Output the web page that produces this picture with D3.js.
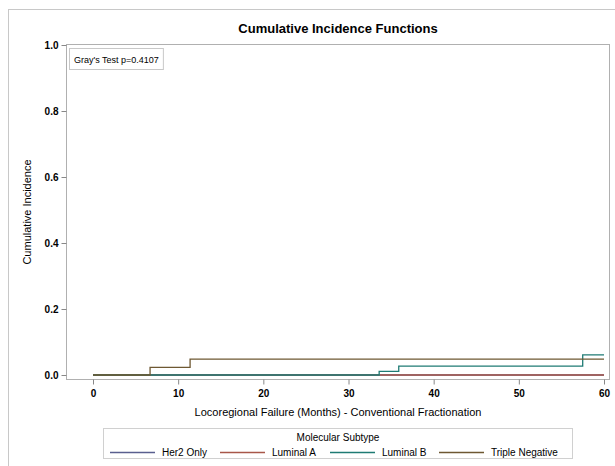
<!DOCTYPE html>
<html>
<head>
<meta charset="utf-8">
<script src="https://cdn.jsdelivr.net/npm/d3@7"></script>
<style>
  body { margin: 0; background: #fff; }
  text { font-family: "Liberation Sans", Arial, sans-serif; fill: #000; }
</style>
</head>
<body>
<div id="chart"></div>
<script>
// step curves: [month, cumulative incidence]
var her2Only = [[0, 0], [60, 0]];
var luminalA = [[0, 0], [60, 0]];
var luminalB = [[0, 0], [33.6, 0.011], [35.9, 0.027], [57.5, 0.061], [60, 0.061]];
var tripleNeg = [[0, 0], [6.7, 0.023], [11.4, 0.048], [60, 0.048]];

var seriesNames = ["Her2 Only", "Luminal A", "Luminal B", "Triple Negative"];
var seriesColors = ["#5a5f8f", "#a8574a", "#1f7b74", "#6e5832"];
var xTicks = [0, 10, 20, 30, 40, 50, 60];
var yTicks = [0, 0.2, 0.4, 0.6, 0.8, 1.0];

var W = 615, H = 466;
var svg = d3.select("#chart").append("svg")
  .attr("width", W).attr("height", H);

// outer frame
svg.append("rect")
  .attr("x", 8.5).attr("y", 9.5)
  .attr("width", 640).attr("height", 480)
  .attr("fill", "none").attr("stroke", "#c8c8c8");

// plot area frame
var frame = {left: 66, top: 44, right: 609, bottom: 379};

var x = d3.scaleLinear().domain([0, 60]).range([93, 604]);
var y = d3.scaleLinear().domain([0, 1]).range([375, 45]);

svg.append("rect")
  .attr("x", frame.left + 0.5).attr("y", frame.top + 0.5)
  .attr("width", frame.right - frame.left).attr("height", frame.bottom - frame.top)
  .attr("fill", "none").attr("stroke", "#b0b0b0");

// title
svg.append("text")
  .attr("x", 338).attr("y", 33)
  .attr("text-anchor", "middle")
  .style("font-size", "13px").style("font-weight", "bold")
  .text("Cumulative Incidence Functions");

// y axis
var yAxis = svg.append("g")
  .attr("transform", "translate(" + (frame.left + 0.5) + ",0)")
  .call(d3.axisLeft(y).tickValues(yTicks).tickFormat(d3.format(".1f")).tickSize(5).tickSizeOuter(0));
yAxis.select(".domain").remove();
yAxis.selectAll("line").attr("stroke", "#888");
yAxis.selectAll("text").attr("x", -8)
  .style("font-size", "10px").style("font-weight", "bold");

// x axis
var xAxis = svg.append("g")
  .attr("transform", "translate(0," + (frame.bottom + 0.5) + ")")
  .call(d3.axisBottom(x).tickValues(xTicks).tickSize(5).tickSizeOuter(0));
xAxis.select(".domain").remove();
xAxis.selectAll("line").attr("stroke", "#888");
xAxis.selectAll("text").attr("y", 10)
  .style("font-size", "10px").style("font-weight", "bold");

// axis labels
svg.append("text")
  .attr("x", 338).attr("y", 416)
  .attr("text-anchor", "middle")
  .style("font-size", "11px")
  .text("Locoregional Failure (Months) - Conventional Fractionation");

svg.append("text")
  .attr("transform", "rotate(-90)")
  .attr("x", -212).attr("y", 31)
  .attr("text-anchor", "middle")
  .style("font-size", "11px")
  .text("Cumulative Incidence");

// Gray's test box, sized to its text
var grayBox = svg.append("rect")
  .attr("x", 69.5).attr("y", 48.5)
  .attr("height", 21)
  .attr("fill", "#fff").attr("stroke", "#c8c8c8");
var grayText = svg.append("text")
  .attr("x", 74).attr("y", 62.5)
  .style("font-size", "9px")
  .text("Gray's Test p=0.4107");
grayBox.attr("width", grayText.node().getComputedTextLength() + 9);

// step lines
var line = d3.line()
  .x(function(d) { return x(d[0]); })
  .y(function(d) { return y(d[1]); })
  .curve(d3.curveStepAfter);

var allSeries = [her2Only, luminalA, luminalB, tripleNeg];
allSeries.forEach(function(s, i) {
  svg.append("path")
    .datum(s)
    .attr("d", line)
    .attr("fill", "none")
    .attr("stroke", seriesColors[i])
    .attr("stroke-width", 1.3);
});

// legend
svg.append("rect")
  .attr("x", 103.5).attr("y", 428.5)
  .attr("width", 469).attr("height", 30)
  .attr("fill", "none").attr("stroke", "#d0d0d0");
svg.append("text")
  .attr("x", 338).attr("y", 441)
  .attr("text-anchor", "middle")
  .style("font-size", "10px")
  .text("Molecular Subtype");

var legendX = [110, 220, 330, 439];
seriesNames.forEach(function(name, i) {
  svg.append("line")
    .attr("x1", legendX[i]).attr("x2", legendX[i] + 45)
    .attr("y1", 452.5).attr("y2", 452.5)
    .attr("stroke", seriesColors[i]).attr("stroke-width", 1.3);
  svg.append("text")
    .attr("x", legendX[i] + 52).attr("y", 456)
    .style("font-size", "10px")
    .text(name);
});
</script>
</body>
</html>
